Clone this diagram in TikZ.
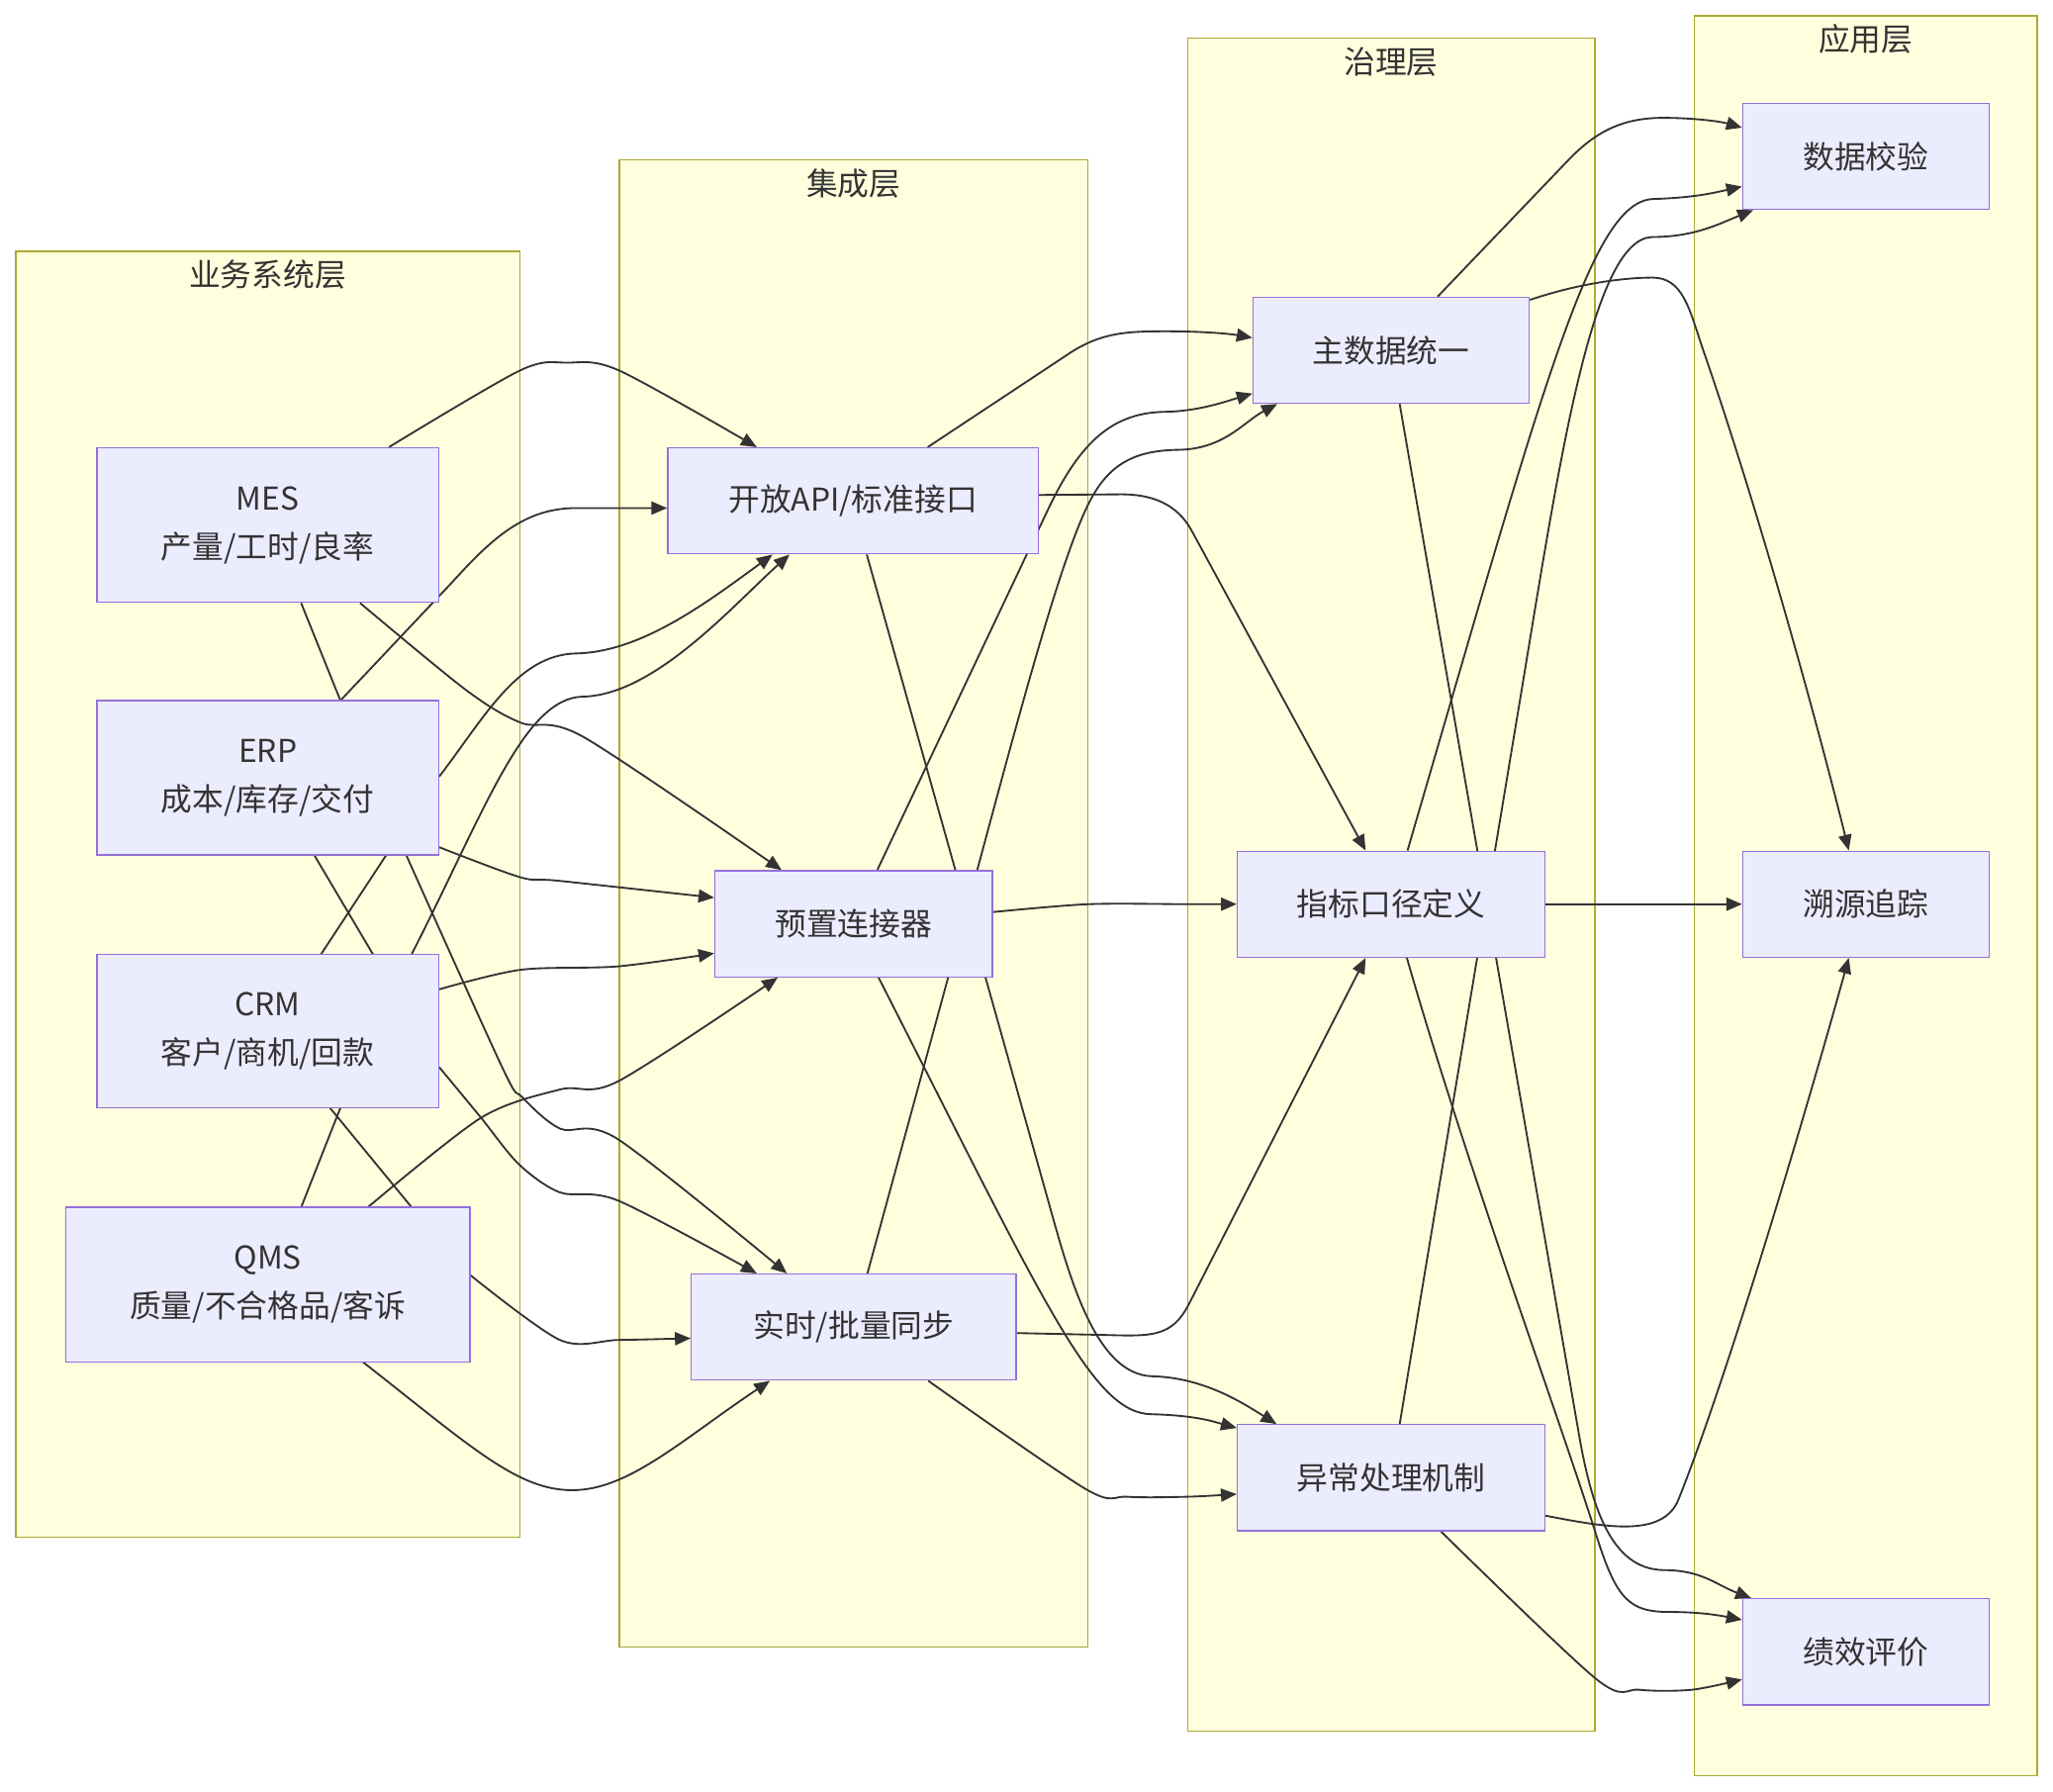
\documentclass[tikz,border=0pt]{standalone}
\usepackage{fontspec}
\setmainfont{Noto Sans CJK SC}
\usetikzlibrary{arrows.meta}
\definecolor{nodefill}{HTML}{ECECFF}
\definecolor{nodeline}{HTML}{9370DB}
\definecolor{clfill}{HTML}{FFFFDE}
\definecolor{clline}{HTML}{AAAA33}
\definecolor{txt}{HTML}{333333}
\pgfdeclarelayer{bg}
\pgfdeclarelayer{edges}
\pgfsetlayers{bg,edges,main}
\begin{document}
\begin{tikzpicture}[x=1pt,y=-1pt,
  box/.style={draw=nodeline, fill=nodefill, line width=1pt, inner sep=0pt, align=center, text=txt, font=\fontsize{24}{37}\selectfont},
  cluster/.style={draw=clline, fill=clfill, line width=1pt, inner sep=0pt},
  cltitle/.style={text=txt, font=\fontsize{24}{30}\selectfont, inner sep=0pt},
  conn/.style={draw=txt, line width=1.4pt, -{Triangle[length=12pt,width=10pt]}},
  sm/.style={smooth, tension=0.5}]
\useasboundingbox (0,0) rectangle (1568,1367.8);

% clusters
\begin{pgfonlayer}{bg}
\node[cluster, minimum width=385pt, minimum height=982pt] (L1) at (204.5,683) {};
\node[cluster, minimum width=358pt, minimum height=1136pt] (L2) at (652,690) {};
\node[cluster, minimum width=311pt, minimum height=1293pt] (L3) at (1062.5,675.5) {};
\node[cluster, minimum width=262pt, minimum height=1344pt] (L4) at (1425,684) {};
\node[cltitle] (T1) at (204.5,210) {业务系统层};
\node[cltitle] (T2) at (652,140) {集成层};
\node[cltitle] (T3) at (1062.5,47) {治理层};
\node[cltitle] (T4) at (1425,30) {应用层};
\end{pgfonlayer}

% nodes
\node[box, minimum width=261pt, minimum height=118pt] (MES) at (204.5,401) {MES\\产量/工时/良率};
\node[box, minimum width=261pt, minimum height=118pt] (ERP) at (204.5,594) {ERP\\成本/库存/交付};
\node[box, minimum width=261pt, minimum height=117pt] (CRM) at (204.5,787.5) {CRM\\客户/商机/回款};
\node[box, minimum width=309pt, minimum height=118pt] (QMS) at (204.5,981) {QMS\\质量/不合格品/客诉};
\node[box, minimum width=283pt, minimum height=81pt] (API) at (651.5,382.5) {开放API/标准接口};
\node[box, minimum width=212pt, minimum height=81pt] (CON) at (652,705.5) {预置连接器};
\node[box, minimum width=248pt, minimum height=81pt] (SYN) at (652,1013.5) {实时/批量同步};
\node[box, minimum width=211pt, minimum height=81pt] (MD) at (1062.5,267.5) {主数据统一};
\node[box, minimum width=235pt, minimum height=81pt] (KPI) at (1062.5,690.5) {指标口径定义};
\node[box, minimum width=235pt, minimum height=81pt] (EXC) at (1062.5,1128.5) {异常处理机制};
\node[box, minimum width=188pt, minimum height=81pt] (VAL) at (1425,119.5) {数据校验};
\node[box, minimum width=188pt, minimum height=81pt] (TRC) at (1425,690.5) {溯源追踪};
\node[box, minimum width=188pt, minimum height=81pt] (PERF) at (1425,1261.5) {绩效评价};

\begin{pgfonlayer}{edges}
% business systems -> integration
\draw[conn] plot[sm] coordinates {([xshift=92.5pt]MES.north) (397,283) (433,277) (473,283) ([xshift=-73.5pt]API.north)};
\draw[conn] plot[sm] coordinates {([xshift=70.5pt]MES.south) (356,527) (398,552) (446,563) ([xshift=-55pt]CON.north)};
\draw[conn] ([xshift=25.5pt]MES.south) -- (260,535) -- (295,653) -- (245,729) -- (260,846) -- (230,922) -- (277,1040)
  .. controls (360,1105) and (395,1138) .. (437,1138) .. controls (480,1138) and (520,1100) .. ([xshift=-64pt]SYN.south);
\draw[conn] ([xshift=109.5pt]QMS.north) -- (252,846) -- (285,729) -- (240,653) -- (260,535) -- (345,445)
  .. controls (375,412) and (400,388) .. (440,388) -- ([yshift=-5.5pt]API.west);
\draw[conn] ([yshift=1pt]ERP.east) .. controls (370,548) and (395,500) .. (440,499)
  .. controls (490,498) and (540,460) .. ([xshift=-61.5pt]API.south);
\draw[conn] plot[sm] coordinates {([yshift=-53pt]ERP.east) (397.6,670) (427.5,672.7) ([yshift=20pt]CON.west)};
\draw[conn] plot[sm] coordinates {([xshift=106pt]ERP.south) (384,816) (399,838) (428,862) (472,870) ([xshift=-51pt]SYN.north)};
\draw[conn] ([xshift=110pt]CRM.north) .. controls (370,620) and (400,533) .. (445,532)
  .. controls (500,531) and (560,462) .. ([xshift=-48.5pt]API.south);
\draw[conn] plot[sm] coordinates {([yshift=32pt]CRM.east) (397.6,740.6) (471.8,738) ([yshift=-22.5pt]CON.west)};
\draw[conn] plot[sm] coordinates {([yshift=-27.5pt]CRM.east) (367.4,853.6) (396.2,889) (427.7,910.6) (472.2,916.9) ([xshift=-74pt]SYN.north)};
\draw[conn] plot[sm] coordinates {([xshift=77pt]QMS.north) (367.4,853.6) (427.7,832) (472.2,825.7) ([xshift=-58pt]CON.south)};
\draw[conn] plot[sm] coordinates {([yshift=7pt]QMS.east) (427.7,1023.3) (472.2,1023.3) ([yshift=-8.5pt]SYN.west)};

% integration -> governance
\draw[conn] ([xshift=57pt]API.north) -- (815,271) .. controls (840,254) and (860,253) .. (890,253)
  .. controls (920,253) and (940,255) .. ([yshift=9.5pt]MD.west);
\draw[conn] ([yshift=4.5pt]API.east) -- (855,377.5) .. controls (880,377.2) and (899,385) .. (910,405) -- ([xshift=-19.5pt]KPI.north);
\draw[conn] ([xshift=10.5pt]API.south) -- (800,915) .. controls (815,968) and (835,1050) .. (880,1051)
  .. controls (920,1052) and (950,1072) .. ([xshift=-87.5pt]EXC.north);
\draw[conn] ([xshift=18pt]CON.north) -- (800,390) .. controls (825,337) and (850,315) .. (890,314.5)
  .. controls (915,314) and (935,307) .. ([yshift=-33pt]MD.west);
\draw[conn] plot[sm] coordinates {([yshift=9pt]CON.east) (831,690.5) (906.8,690.5) (KPI.west)};
\draw[conn] ([xshift=19pt]CON.south) .. controls (800,1000) and (835,1080) .. (880,1080)
  .. controls (915,1081) and (928,1086) .. ([yshift=38pt]EXC.west);
\draw[conn] ([xshift=10.5pt]SYN.north) -- (730,725) .. controls (770,578) and (810,420) .. (835,378)
  .. controls (850,352) and (870,344) .. (900,343.5) .. controls (935,343) and (950,322) .. ([xshift=-87pt]MD.south);
\draw[conn] ([yshift=-4.5pt]SYN.east) -- (845,1019.5) .. controls (880,1020.5) and (895,1021) .. (908,996) -- ([xshift=-19.5pt]KPI.south);
\draw[conn] plot[sm] coordinates {([xshift=57pt]SYN.south) (829,1137) (861,1143) (907,1143) ([yshift=-12.5pt]EXC.west)};

% governance -> application
\draw[conn] ([xshift=35.5pt]MD.north) -- (1200,120) .. controls (1220,100) and (1240,90) .. (1270,90)
  .. controls (1295,90) and (1315,93) .. ([yshift=22pt]VAL.west);
\draw[conn] ([yshift=38.5pt]MD.east) .. controls (1210,215) and (1245,212) .. (1262,212)
  .. controls (1285,212) and (1290,235) .. (1300,265) .. controls (1340,380) and (1385,540) .. ([xshift=-13pt]TRC.north);
\draw[conn] ([xshift=6.5pt]MD.south) -- (1205,1090) .. controls (1215,1150) and (1230,1198) .. (1270,1199)
  .. controls (1300,1199) and (1310,1210) .. ([xshift=-87.5pt]PERF.north);
\draw[conn] ([xshift=12.5pt]KPI.north) .. controls (1180,290) and (1215,155) .. (1262,152)
  .. controls (1295,151) and (1310,147) .. ([yshift=-23pt]VAL.west);
\draw[conn] (KPI.east) -- (TRC.west);
\draw[conn] ([xshift=12pt]KPI.south) .. controls (1120,890) and (1190,1080) .. (1220,1175)
  .. controls (1235,1222) and (1245,1231) .. (1275,1231) .. controls (1300,1231) and (1315,1234) .. ([yshift=24.5pt]PERF.west);
\draw[conn] ([xshift=6.5pt]EXC.north) -- (1160,540) .. controls (1190,360) and (1215,182) .. (1262,181)
  .. controls (1295,181) and (1315,170) .. ([xshift=-86pt]VAL.south);
\draw[conn] ([yshift=-29pt]EXC.east) .. controls (1225,1166) and (1270,1175) .. (1282,1145)
  .. controls (1320,1050) and (1382,840) .. ([xshift=-13pt]TRC.south);
\draw[conn] plot[sm] coordinates {([xshift=38pt]EXC.south) (1219.1,1282.2) (1251.9,1290.4) (1292.2,1290.4) ([yshift=-21pt]PERF.west)};
\end{pgfonlayer}
\end{tikzpicture}
\end{document}
